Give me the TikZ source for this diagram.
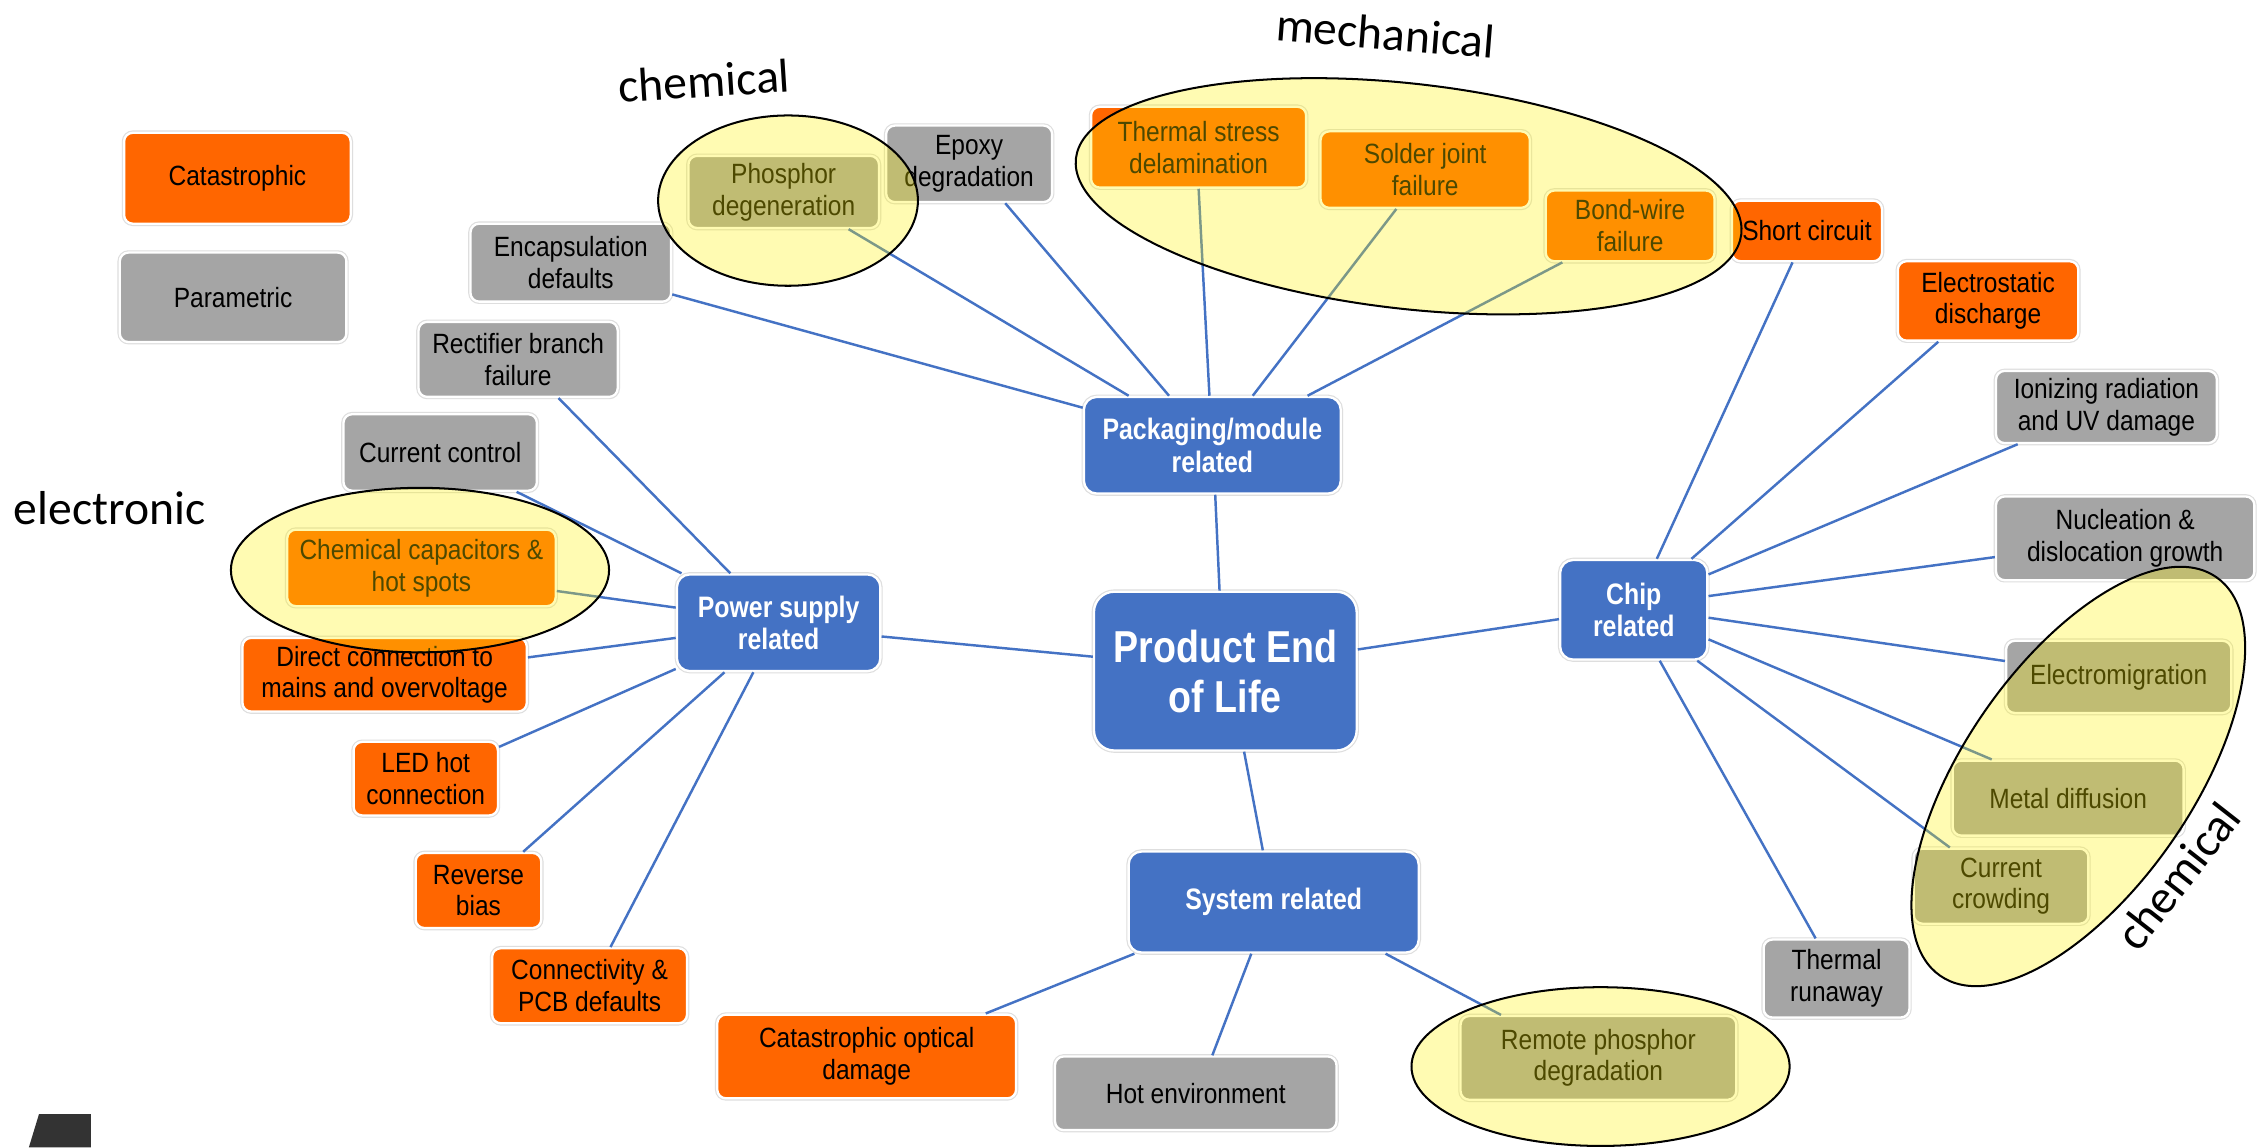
\documentclass[tikz,border=0pt]{standalone}
\usepackage{fontspec}
\setmainfont{Liberation Sans}[FakeStretch=0.88]
\newfontfamily\hubfont{Liberation Sans}[FakeStretch=0.84]
\newfontfamily\handfont{Carlito}
\usetikzlibrary{calc}
\definecolor{catorange}{HTML}{FF6600}
\definecolor{pargray}{HTML}{A5A5A5}
\definecolor{hubblue}{HTML}{4472C4}
\definecolor{linkblue}{HTML}{4472C4}
\definecolor{logogray}{HTML}{333333}
\tikzset{
  sz/.style 2 args={minimum width=#1pt, minimum height=#2pt},
  leaf/.style={rectangle, rounded corners=6pt, align=center, inner sep=0pt, text=black,
    font=\fontsize{19.3}{22}\selectfont,
    preaction={draw=black!13, line width=3.2pt}, draw=white, line width=1.6pt},
  catbox/.style={leaf, fill=catorange},
  parbox/.style={leaf, fill=pargray},
  hub/.style={leaf, fill=hubblue, text=white, rounded corners=9pt,
    font=\hubfont\bfseries\fontsize{20.5}{22.6}\selectfont},
  link/.style={draw=linkblue, line width=1.7pt},
  hl/.style={draw=black, line width=1.4pt, fill=yellow, fill opacity=0.3, draw opacity=1},
  hand/.style={font=\handfont\fontsize{33}{36}\selectfont, inner sep=0pt, text=black}
}
\begin{document}
\begin{tikzpicture}[x=1pt, y=-1pt]
\useasboundingbox[fill=white] (0,0) rectangle (1568,795);

% legend
\node[catbox, sz={157}{63}] (catas) at (164.5,123.5) {Catastrophic};
\node[parbox, sz={157}{62}] (param) at (161.5,206) {Parametric};

% leaves
\node[parbox, sz={139}{54}] (enc) at (395.5,182) {Encapsulation\\defaults};
\node[parbox, sz={138}{52}] (rect) at (359,249) {Rectifier branch\\failure};
\node[parbox, sz={134}{53}] (cc) at (305,313.5) {Current control};
\node[catbox, sz={186}{53}] (chem) at (292,393.5) {Chemical capacitors \&\\hot spots};
\node[catbox, sz={197}{51}] (dir) at (266.5,467.5) {Direct connection to\\mains and overvoltage};
\node[catbox, sz={100}{51}] (led) at (295,539.5) {LED hot\\connection};
\node[catbox, sz={87}{52}] (rev) at (331.5,617) {Reverse\\bias};
\node[catbox, sz={135}{52}] (conn) at (408.5,683) {Connectivity \&\\PCB defaults};
\node[catbox, sz={207}{58}] (cod) at (600.5,732) {Catastrophic optical\\damage};
\node[parbox, sz={195}{51}] (hot) at (828.5,757.5) {Hot environment};
\node[parbox, sz={191}{58}] (rem) at (1107.5,733) {Remote phosphor\\degradation};
\node[parbox, sz={101}{54}] (trun) at (1272.5,678) {Thermal\\runaway};
\node[parbox, sz={121}{52}] (crowd) at (1386.5,614) {Current\\crowding};
\node[parbox, sz={160}{52}] (metal) at (1433,553) {Metal diffusion};
\node[parbox, sz={156}{50}] (emig) at (1468,469) {Electromigration};
\node[parbox, sz={179}{58}] (nuc) at (1472.5,373) {Nucleation \&\\dislocation growth};
\node[parbox, sz={153}{50}] (ion) at (1459.5,282) {Ionizing radiation\\and UV damage};
\node[catbox, sz={125}{55}] (esd) at (1377.5,208.5) {Electrostatic\\discharge};
\node[catbox, sz={104}{42}] (short) at (1252,160) {Short circuit};
\node[catbox, sz={117}{49}] (bond) at (1129.5,156.5) {Bond-wire\\failure};
\node[catbox, sz={145}{53}] (solder) at (987.5,117.5) {Solder joint\\failure};
\node[catbox, sz={149}{56}] (therm) at (830.5,102) {Thermal stress\\delamination};
\node[parbox, sz={115}{53}] (epoxy) at (671.5,113.5) {Epoxy\\degradation};
\node[parbox, sz={132}{50}] (phos) at (543,133) {Phosphor\\degeneration};

% hubs
\node[hub, sz={178}{67}] (pack) at (840,308.5) {Packaging/module\\related};
\node[hub, sz={141}{67}] (pow) at (539.5,431.5) {Power supply\\related};
\node[hub, sz={182}{110}, rounded corners=14pt,
      font=\hubfont\bfseries\fontsize{31}{34.6}\selectfont] (prod) at (849,465) {Product End\\of Life};
\node[hub, sz={102}{69}] (chip) at (1132,422.5) {Chip\\related};
\node[hub, sz={201}{70}] (sys) at (882.5,625) {System related};

% connectors: packaging
\draw[link] ($(enc.east)+(0,22)$) -- ($(pack.west)+(0,-26)$);
\draw[link] ($(phos.south)+(45,0)$) -- ($(pack.north)+(-58,0)$);
\draw[link] ($(epoxy.south)+(25,0)$) -- ($(pack.north)+(-30,0)$);
\draw[link] (therm.south) -- ($(pack.north)+(-2,0)$);
\draw[link] ($(solder.south)+(-20,0)$) -- ($(pack.north)+(28,0)$);
\draw[link] ($(bond.south)+(-47,0)$) -- ($(pack.north)+(66,0)$);
\draw[link] ($(pack.south)+(2,0)$) -- ($(prod.north)+(-4,0)$);
% power supply
\draw[link] ($(rect.south)+(28,0)$) -- ($(pow.north)+(-33.5,0)$);
\draw[link] ($(cc.south)+(53,0)$) -- ($(pow.north west)+(4,0)$);
\draw[link] ($(chem.east)+(0,16)$) -- ($(pow.west)+(0,-10.5)$);
\draw[link] ($(dir.east)+(0,-12)$) -- ($(pow.west)+(0,10.5)$);
\draw[link] ($(led.east)+(0,-22)$) -- ($(pow.west)+(0,32)$);
\draw[link] ($(rev.north)+(31,0)$) -- ($(pow.south)+(-37.5,0)$);
\draw[link] ($(conn.north)+(14.5,0)$) -- ($(pow.south)+(-17.5,0)$);
\draw[link] ($(pow.east)+(0,9.5)$) -- ($(prod.west)+(0,-10)$);
% product
\draw[link] ($(prod.east)+(0,-15)$) -- ($(chip.west)+(0,6.5)$);
\draw[link] ($(prod.south)+(13,0)$) -- ($(sys.north)+(-7.5,0)$);
% chip
\draw[link] ($(short.south)+(-10,0)$) -- ($(chip.north)+(16,0)$);
\draw[link] ($(esd.south)+(-34.5,0)$) -- ($(chip.north)+(40,0)$);
\draw[link] ($(ion.south)+(-61.5,0)$) -- ($(chip.east)+(0,-24.5)$);
\draw[link] ($(nuc.west)+(0,13)$) -- ($(chip.east)+(0,-9.5)$);
\draw[link] ($(chip.east)+(0,5.5)$) -- ($(emig.west)+(0,-11)$);
\draw[link] ($(chip.east)+(0,20.5)$) -- ($(metal.north)+(-53,0)$);
\draw[link] ($(chip.south)+(44,0)$) -- ($(crowd.north)+(-35.5,0)$);
\draw[link] ($(chip.south)+(18,0)$) -- ($(trun.north)+(-14.5,0)$);
% system
\draw[link] ($(sys.south)+(-96.5,0)$) -- ($(cod.north)+(82.5,0)$);
\draw[link] ($(sys.south)+(-15.5,0)$) -- ($(hot.north)+(11.5,0)$);
\draw[link] ($(sys.south)+(77.5,0)$) -- ($(rem.north)+(-67.5,0)$);

% highlight ellipses
\draw[hl] (546,139) ellipse [x radius=90pt, y radius=59pt];
\draw[hl, shift={(976,136)}, rotate=-6.5] (0,0) ellipse [x radius=232pt, y radius=78pt];
\draw[hl] (291,395) ellipse [x radius=131pt, y radius=57pt];
\draw[hl, shift={(1440,538)}, rotate=55.3] (0,0) ellipse [x radius=168pt, y radius=79pt];
\draw[hl] (1109,739) ellipse [x radius=131pt, y radius=55pt];

% hand labels
\node[hand, rotate=3.7] (lchem) at (488,56) {chemical};
\node[hand, rotate=-4.5] (lmech) at (960,23) {mechanical};
\node[hand] (lelec) at (76,352) {electronic};
\node[hand, rotate=52] (lchemb) at (1509,607) {chemical};

% logo fragment
\fill[logogray] (20,795) -- (27,772) -- (63,772) -- (63,795) -- cycle;
\end{tikzpicture}
\end{document}
